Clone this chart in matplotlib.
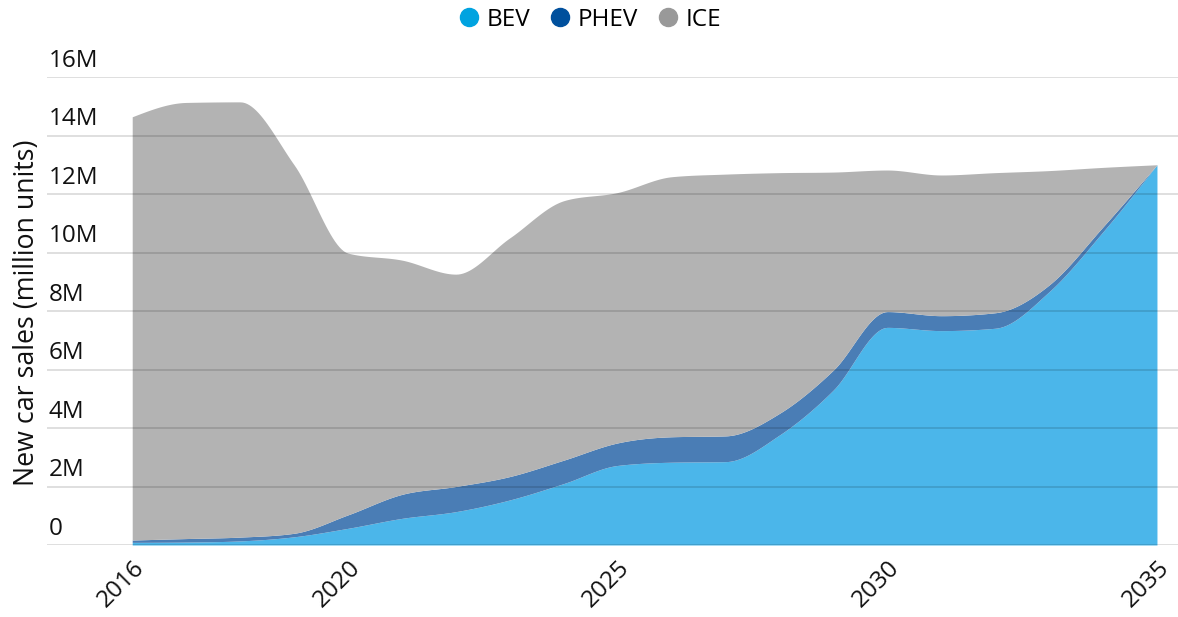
import numpy as np
import matplotlib
matplotlib.use('Agg')
import matplotlib.pyplot as plt
from matplotlib.lines import Line2D

plt.rcParams['font.family'] = ['Open Sans', 'DejaVu Sans']

# yearly values, million units
years = list(range(2016, 2036))
bev = [0.09, 0.10, 0.14, 0.28, 0.57, 0.91, 1.14, 1.54, 2.10, 2.72,
       2.83, 2.85, 3.76, 5.30, 7.44, 7.33, 7.41, 8.66, 10.71, 13.0]
phev = [0.08, 0.12, 0.13, 0.12, 0.46, 0.82, 0.86, 0.80, 0.80, 0.77,
        0.87, 0.88, 0.74, 0.68, 0.54, 0.51, 0.53, 0.23, 0.17, 0.0]
ice = [14.47, 14.91, 14.88, 12.60, 8.95, 8.01, 7.26, 8.16, 8.87, 8.56,
       8.89, 8.95, 8.23, 6.77, 4.84, 4.81, 4.79, 3.91, 2.03, 0.0]

series = ['BEV', 'PHEV', 'ICE']
fill_colors = ['#4BB6EA', '#4A7DB5', '#B3B3B3']
dot_colors = ['#00A3E0', '#00509D', '#999999']
y_ticks = [0, 2, 4, 6, 8, 10, 12, 14, 16]
y_tick_labels = ['0', '2M', '4M', '6M', '8M', '10M', '12M', '14M', '16M']
x_ticks = [2016, 2020, 2025, 2030, 2035]


def monotone_curve(x, y, steps=24):
    # monotone cubic (like d3 curveMonotoneX) for drawing smooth boundaries
    x = np.asarray(x, float)
    y = np.asarray(y, float)
    h = np.diff(x)
    s = np.diff(y) / h
    m = np.zeros_like(y)
    for k in range(1, len(y) - 1):
        p = (s[k - 1] * h[k] + s[k] * h[k - 1]) / (h[k - 1] + h[k])
        m[k] = (np.sign(s[k - 1]) + np.sign(s[k])) * min(abs(s[k - 1]), abs(s[k]), 0.5 * abs(p))
    m[0] = (3 * s[0] - m[1]) / 2
    m[-1] = (3 * s[-1] - m[-2]) / 2
    xs, ys = [], []
    for k in range(len(x) - 1):
        t = np.linspace(0, 1, steps, endpoint=False)
        h00 = 2 * t**3 - 3 * t**2 + 1
        h10 = t**3 - 2 * t**2 + t
        h01 = -2 * t**3 + 3 * t**2
        h11 = t**3 - t**2
        xs.append(x[k] + t * h[k])
        ys.append(h00 * y[k] + h10 * h[k] * m[k] + h01 * y[k + 1] + h11 * h[k] * m[k + 1])
    xs.append([x[-1]])
    ys.append([y[-1]])
    return np.concatenate(xs), np.concatenate(ys)


fig = plt.figure(figsize=(11.78, 6.17), dpi=100)
ax = fig.add_axes([47 / 1178, 72 / 617, 1131 / 1178, 468 / 617])

base = np.zeros(len(years))
lower_x, lower_y = monotone_curve(years, base)
for name, vals, col in zip(series, [bev, phev, ice], fill_colors):
    top = base + np.array(vals)
    up_x, up_y = monotone_curve(years, top)
    ax.fill_between(up_x, lower_y, up_y, color=col, linewidth=0, zorder=1)
    lower_y = up_y
    base = top

# gridlines on top of areas
for v in y_ticks:
    ax.axhline(v, color='black', alpha=0.16, linewidth=1.1, zorder=3)

ax.set_xlim(2014.42, 2035.39)
ax.set_ylim(0, 16)
for sp in ax.spines.values():
    sp.set_visible(False)
ax.set_yticks([])
ax.set_xticks(x_ticks)
ax.set_xticklabels([str(t) for t in x_ticks], rotation=45, ha='right',
                   rotation_mode='anchor', fontsize=17.5, color='#111111')
ax.tick_params(axis='x', length=0, pad=8)

# y tick labels sit above the gridlines
for v, lab in zip(y_ticks, y_tick_labels):
    ax.annotate(lab, xy=(0, v), xycoords=('axes fraction', 'data'),
                xytext=(1, 3), textcoords='offset points',
                ha='left', va='bottom', fontsize=17.5, color='#111111')

fig.text(27 / 1178, 1 - 313 / 617, 'New car sales (million units)', rotation=90,
         ha='center', va='center', fontsize=19.3, color='#111111')

handles = [Line2D([], [], marker='o', linestyle='', markersize=13,
                  markerfacecolor=c, markeredgecolor=c) for c in dot_colors]
fig.legend(handles, series, loc='center', bbox_to_anchor=(0.5, 1 - 20 / 617),
           ncol=3, frameon=False, fontsize=17.5, handletextpad=0.25,
           columnspacing=0.7, handlelength=1.0)

fig.savefig('out.png', dpi=100)
